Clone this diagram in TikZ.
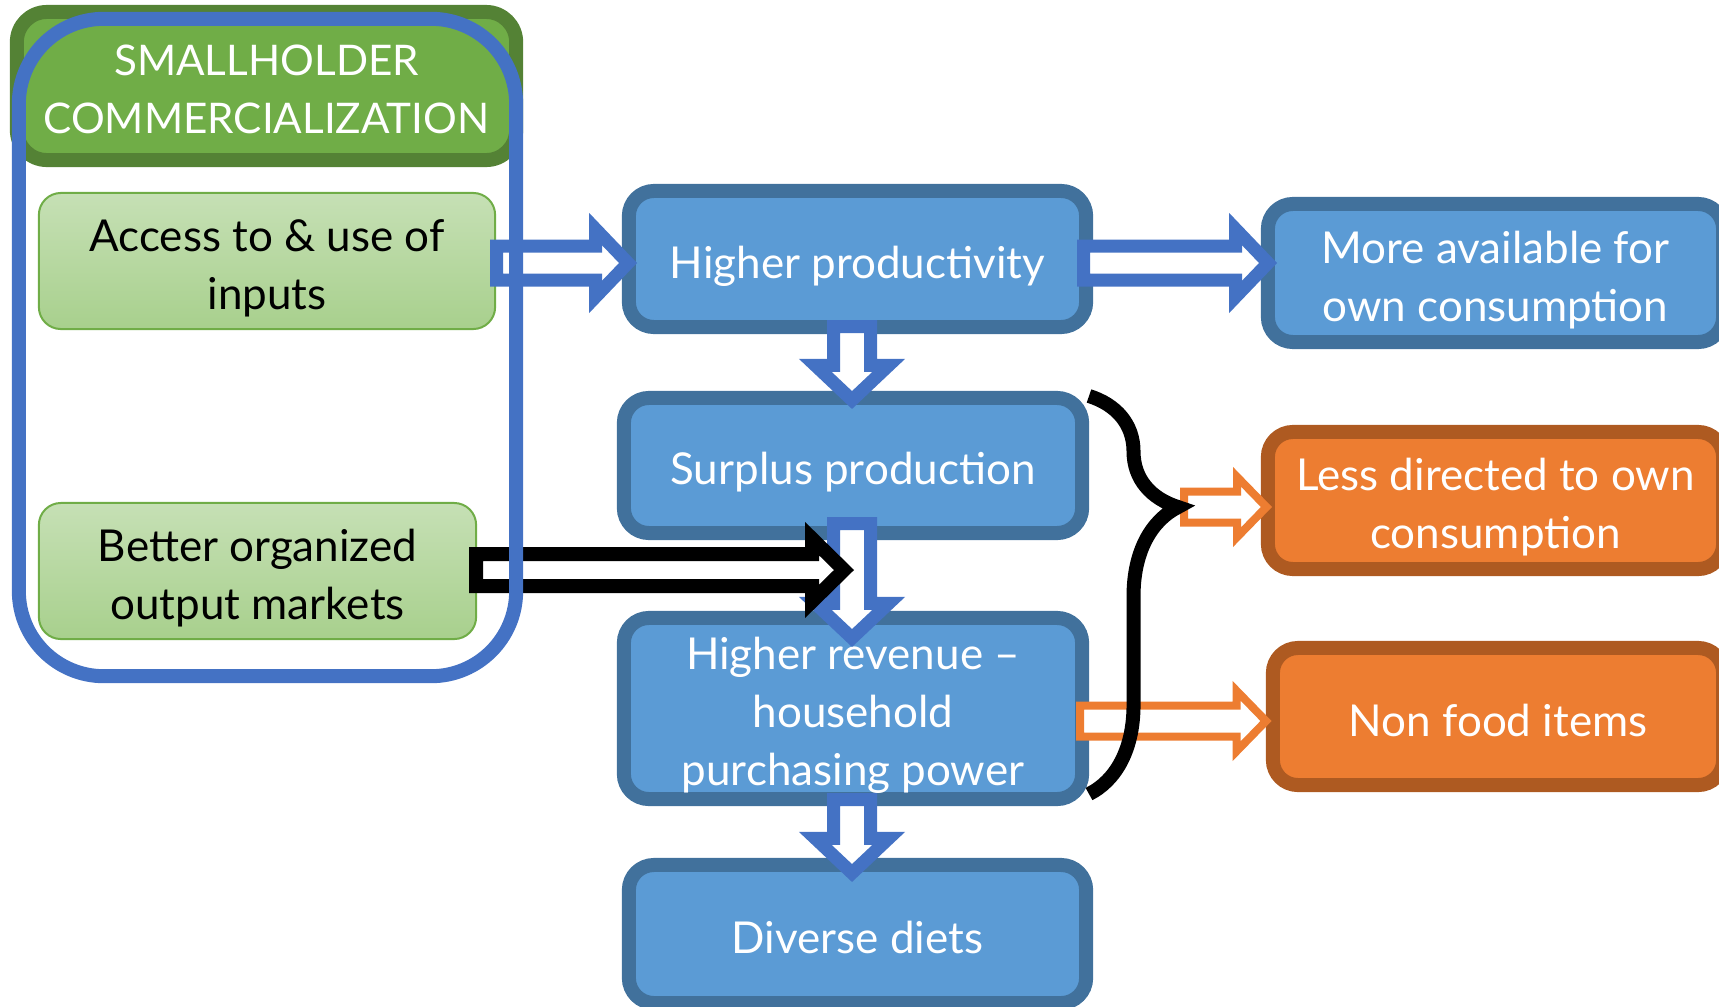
\documentclass[tikz,border=0pt]{standalone}
\usepackage{fontspec}
\setmainfont{Lato}
\usetikzlibrary{calc,decorations.pathreplacing}

\definecolor{boxblue}{HTML}{5B9BD5}
\definecolor{boxblueline}{HTML}{41719C}
\definecolor{arrowblue}{HTML}{4472C4}
\definecolor{boxorange}{HTML}{ED7D31}
\definecolor{boxorangeline}{HTML}{AE5A21}
\definecolor{headgreen}{HTML}{70AD47}
\definecolor{headgreenline}{HTML}{548235}
\definecolor{lightgreentop}{HTML}{C6E0B5}
\definecolor{lightgreenbot}{HTML}{A8D08D}

% strut that sets the height of a first line
\newcommand{\lift}[1]{\rule{0pt}{#1}}

\tikzset{
  txt/.style={font=\fontsize{12.5}{16.5}\selectfont, align=center, inner sep=0pt},
  bluebox/.style={txt, draw=boxblueline, fill=boxblue, text=white, line width=0.14cm, rounded corners=0.25cm},
  orangebox/.style={bluebox, draw=boxorangeline, fill=boxorange},
  greenbox/.style={txt, draw=headgreen, top color=lightgreentop, bottom color=lightgreenbot, line width=0.02cm, rounded corners=0.22cm},
  headbox/.style={txt, font=\fontsize{12}{16.5}\selectfont,
    draw=headgreenline, fill=headgreen, text=white, line width=0.14cm, rounded corners=0.3cm},
  bigframe/.style={draw=arrowblue, line width=0.14cm, rounded corners=0.85cm, inner sep=0pt},
  hollow/.style={draw=#1, fill=white, line width=0.13cm, line join=miter},
}

% hollow block arrows: style, tail, tip, shaft half, head half, head length
\newcommand{\blockright}[6]{%
  \draw[#1] ($(#2)+(0,-#4)$) -- ($(#3)+(-#6,-#4)$) -- ($(#3)+(-#6,-#5)$) -- (#3)
    -- ($(#3)+(-#6,#5)$) -- ($(#3)+(-#6,#4)$) -- ($(#2)+(0,#4)$) -- cycle;}
\newcommand{\blockdown}[6]{%
  \draw[#1] ($(#2)+(-#4,0)$) -- ($(#3)+(-#4,-#6)$) -- ($(#3)+(-#5,-#6)$) -- (#3)
    -- ($(#3)+(#5,-#6)$) -- ($(#3)+(#4,-#6)$) -- ($(#2)+(#4,0)$) -- cycle;}

\begin{document}
\begin{tikzpicture}[x=0.01cm, y=-0.01cm]
  \useasboundingbox (0,0) rectangle (1719,1006);
  \clip (0,0) rectangle (1719,1006);

  % left column
  \node[headbox, minimum width=4.99cm, minimum height=1.48cm] (head) at (266.5,86) {\lift{10.8pt}SMALLHOLDER\\COMMERCIALIZATION};
  \node[greenbox, minimum width=4.56cm, minimum height=1.36cm] (access) at (267,261) {\lift{13.2pt}Access to \& use of\\inputs};
  \node[greenbox, minimum width=4.37cm, minimum height=1.36cm] (better) at (257.5,571) {\lift{13.2pt}Better organized\\output markets};

  % middle column
  \node[bluebox, minimum width=4.57cm, minimum height=1.36cm] (hp) at (857.5,259) {\lift{13.2pt}Higher productivity};
  \node[bluebox, minimum width=4.58cm, minimum height=1.35cm] (surplus) at (853,465.5) {\lift{13.2pt}Surplus production};
  \node[bluebox, minimum width=4.58cm, minimum height=1.81cm] (revenue) at (853,708.5) {\lift{13.2pt}Higher revenue –\\household\\purchasing power};
  \node[bluebox, minimum width=4.57cm, minimum height=1.38cm] (diets) at (857.5,934) {\lift{11.2pt}Diverse diets};

  % right column
  \node[bluebox, minimum width=4.55cm, minimum height=1.38cm] (more) at (1495.5,273) {\lift{13.2pt}More available for\\own consumption};
  \node[orangebox, minimum width=4.55cm, minimum height=1.37cm] (less) at (1495.5,500.5) {\lift{13.2pt}Less directed to own\\consumption};
  \node[orangebox, minimum width=4.5cm, minimum height=1.37cm] (nonfood) at (1498,716.5) {\lift{11.2pt}Non food items};

  % arrow ends
  \coordinate (acc-out) at (496.5,263);
  \coordinate (hp-in) at (628,263);
  \coordinate (hp-out) at (1083.5,263);
  \coordinate (more-in) at (1268,263);
  \coordinate (hp-down) at (852,326.5);
  \coordinate (sur-in) at (852,400);
  \coordinate (sur-down) at (852,523.5);
  \coordinate (rev-in) at (852,638);
  \coordinate (rev-down) at (852,799.5);
  \coordinate (diet-in) at (852,873);
  \coordinate (mkt-out) at (476,570);
  \coordinate (mkt-in) at (844,570);
  \coordinate (brace-top) at (1089,396);
  \coordinate (brace-bot) at (1089,794);
  \coordinate (brace-tip) at (1184,507);
  \coordinate (less-in) at (1266.4,507);
  \coordinate (rev-out) at (1080,721);
  \coordinate (non-in) at (1266,721);

  \blockright{hollow=arrowblue}{acc-out}{hp-in}{17}{34}{32.5}
  \blockright{hollow=arrowblue}{hp-out}{more-in}{17}{34}{32.5}
  \blockdown{hollow=arrowblue}{hp-down}{sur-in}{18.5}{36.7}{34.6}
  \blockdown{hollow=arrowblue}{sur-down}{rev-in}{18.5}{36.7}{34.6}
  \blockdown{hollow=arrowblue}{rev-down}{diet-in}{18.5}{36.7}{34.6}
  \blockright{hollow=black, line width=0.14cm}{mkt-out}{mkt-in}{16}{31.4}{32}
  \blockright{hollow=boxorange, line width=0.08cm}{brace-tip}{less-in}{15.5}{30.2}{29.4}
  \blockright{hollow=boxorange, line width=0.08cm}{rev-out}{non-in}{15.5}{30.2}{29.4}

  \draw[decorate, decoration={brace, amplitude=0.89cm, aspect=0.279}, line width=0.14cm] (brace-top) -- (brace-bot);

  \node[bigframe, minimum width=4.97cm, minimum height=6.57cm] (frame) at (267.5,347.5) {};
\end{tikzpicture}
\end{document}
